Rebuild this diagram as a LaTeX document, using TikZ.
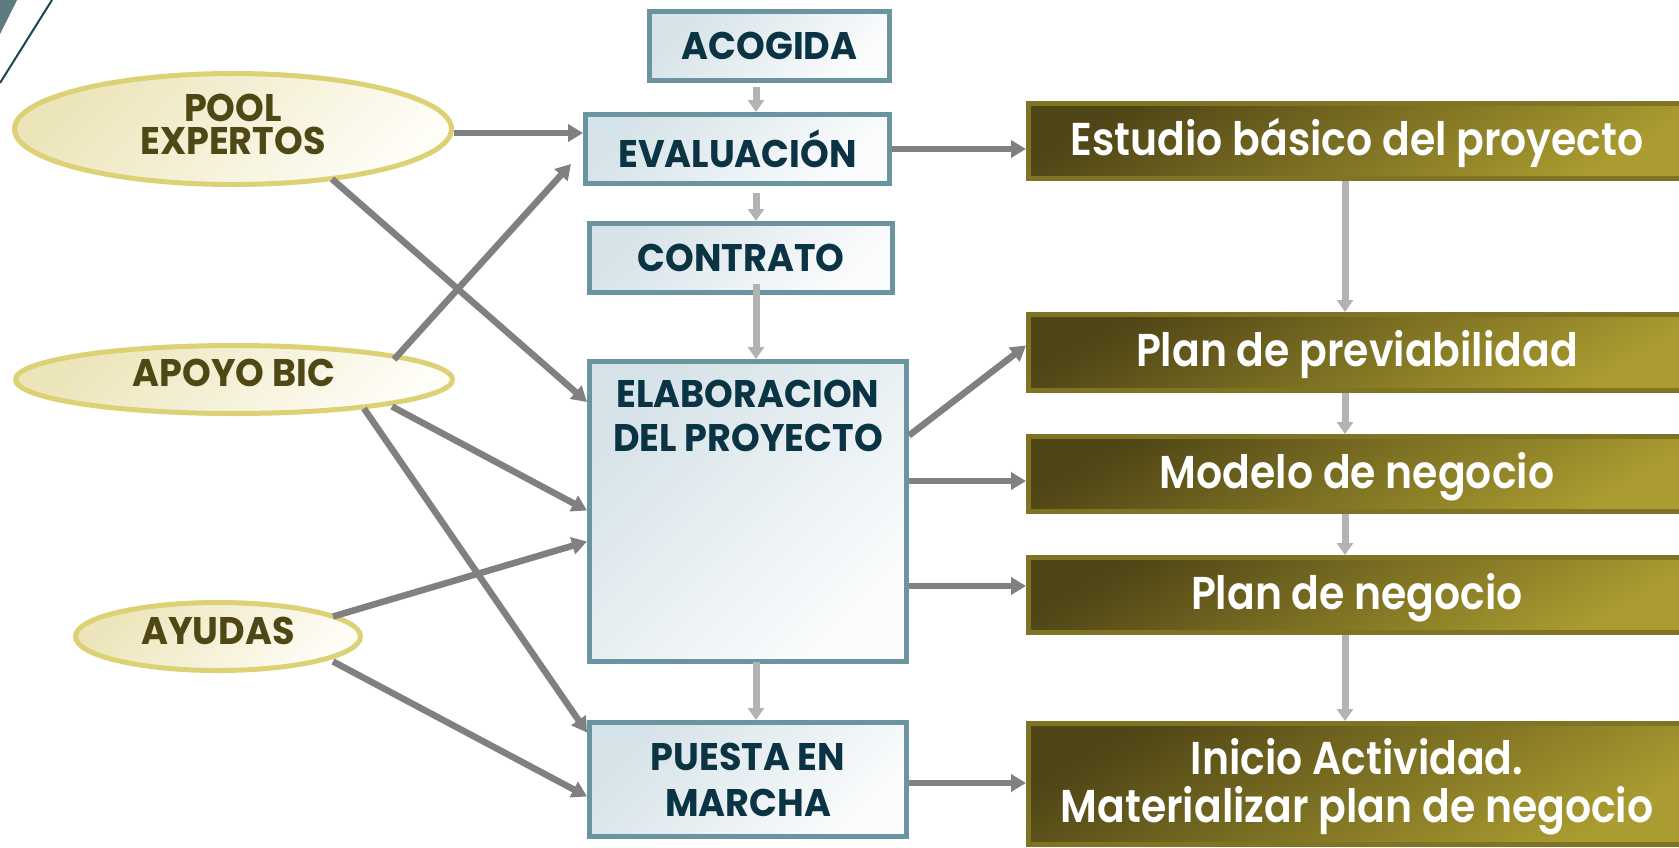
\documentclass[tikz,border=0pt]{standalone}
\usepackage{fontspec}
\setmainfont{Poppins}
\newfontfamily\capfont{Poppins}[FakeStretch=0.95]
\newfontfamily\olvfont{Poppins}[FakeStretch=0.89, BoldFont={Poppins SemiBold}]
\usetikzlibrary{shapes.geometric,arrows.meta,calc}
\definecolor{boxborder}{HTML}{6A94A0}
\definecolor{boxfillA}{HTML}{D6E3E8}
\definecolor{boxfillB}{HTML}{FBFCFD}
\definecolor{boxtext}{HTML}{0A3343}
\definecolor{ellborder}{HTML}{DCD174}
\definecolor{ellfillA}{HTML}{ECE5BA}
\definecolor{ellfillB}{HTML}{FEFDF6}
\definecolor{elltext}{HTML}{4F4714}
\definecolor{olvborder}{HTML}{7E7424}
\definecolor{olvA}{HTML}{4F4516}
\definecolor{olvB}{HTML}{AA9C30}
\definecolor{darkarrow}{HTML}{808080}
\definecolor{lightarrow}{HTML}{B3B3B3}
\definecolor{cornerfill}{HTML}{5E7B82}
\definecolor{cornerline}{HTML}{1C4652}
\begin{document}
\begin{tikzpicture}[x=1pt,y=-1pt,
  bluebox/.style={draw=boxborder, line width=5pt, top color=boxfillA, bottom color=boxfillB, shading angle=45,
    inner sep=0pt, text=boxtext, align=center, font=\capfont\bfseries\fontsize{38.5}{46}\selectfont},
  bluetext/.style={inner sep=0pt, text=boxtext, align=center, font=\capfont\bfseries\fontsize{38.5}{44}\selectfont},
  ell/.style={ellipse, draw=ellborder, line width=5pt, top color=ellfillA, bottom color=ellfillB, shading angle=45,
    inner sep=0pt, text=elltext, align=center, font=\capfont\bfseries\fontsize{38.5}{33}\selectfont},
  olv/.style={draw=olvborder, line width=5pt, top color=olvA, bottom color=olvB, shading angle=30,
    inner sep=0pt, text=white, align=center, minimum width=657pt, font=\olvfont\bfseries\fontsize{46}{48}\selectfont},
  darr/.style={draw=darkarrow, line width=6.5pt, -{Triangle[length=15pt,width=17pt]}},
  larr/.style={draw=lightarrow, line width=7pt, -{Triangle[length=12pt,width=16pt]}}
]
\useasboundingbox (0,0) rectangle (1679,847);
\clip (0,0) rectangle (1679,847);
\fill[white] (0,0) rectangle (1679,847);
% corner decoration
\fill[cornerfill] (0,0) -- (17,0) -- (0,34) -- cycle;
\draw[cornerline, line width=2pt] (52,0) -- (0,83);

% centre column
\node[bluebox, minimum width=240pt, minimum height=69pt] (acogida) at (769.5,46) {ACOGIDA};
\node[bluebox, minimum width=304pt, minimum height=69pt] (eval) at (737.5,149) {EVALUACIÓN};
\node[bluebox, minimum width=303pt, minimum height=69pt] (contrato) at (741,258) {CONTRATO};
\node[bluebox, minimum width=317pt, minimum height=300pt] (elab) at (748,511.5) {};
\node[bluetext] (elabt) at (748,416) {ELABORACION\\DEL PROYECTO};
\node[bluebox, minimum width=317pt, minimum height=114pt] (puesta) at (748,779.5) {PUESTA EN\\MARCHA};

% ellipses
\node[ell, minimum width=437pt, minimum height=111pt, text depth=10pt] (pool) at (233,129) {POOL\\EXPERTOS};
\node[ell, minimum width=437pt, minimum height=68pt, text depth=13pt] (apoyo) at (234,379.5) {APOYO BIC};
\node[ell, minimum width=285pt, minimum height=68pt, text depth=12pt] (ayudas) at (218,636.5) {AYUDAS};

% olive column
\node[olv, minimum height=75pt, text depth=8pt] (estudio) at (1357,141) {Estudio básico del proyecto};
\node[olv, minimum height=76pt, text depth=8pt] (planprev) at (1357,352.5) {Plan de previabilidad};
\node[olv, minimum height=75pt, text depth=8pt] (modelo) at (1357,474) {Modelo de negocio};
\node[olv, minimum height=75pt, text depth=8pt] (planneg) at (1357,595) {Plan de negocio};
\node[olv, minimum height=121pt, text depth=7pt] (inicio) at (1357,784) {Inicio Actividad.\\Materializar plan de negocio};

% light grey vertical arrows
\coordinate (a1) at ([xshift=-13.5pt,yshift=-4pt]acogida.south);
\draw[larr] (a1) -- (a1 |- eval.north);
\coordinate (a2) at ([xshift=18.5pt,yshift=-7pt]eval.south);
\draw[larr] (a2) -- (a2 |- contrato.north);
\coordinate (a3) at ([xshift=15pt,yshift=11pt]contrato.south);
\draw[larr] (a3) -- (a3 |- elab.north);
\coordinate (a4) at ([xshift=8pt,yshift=2pt]elab.south);
\draw[larr] (a4) -- (a4 |- puesta.north);
\coordinate (b1) at ([xshift=-12pt]estudio.south);
\draw[larr] (b1) -- (b1 |- planprev.north);
\coordinate (b2) at ([xshift=-12pt]planprev.south);
\draw[larr] (b2) -- (b2 |- modelo.north);
\coordinate (b3) at ([xshift=-12pt]modelo.south);
\draw[larr] (b3) -- (b3 |- planneg.north);
\coordinate (b4) at ([xshift=-12pt]planneg.south);
\draw[larr] (b4) -- (b4 |- inicio.north);

% dark grey arrows
\coordinate (p1) at ([yshift=-4pt]pool.east);
\draw[darr] (p1) -- (p1 -| eval.west);
\draw[darr] (eval.east) -- (eval.east -| estudio.west);
\draw[darr] ([xshift=99pt,yshift=-50pt]pool.center) -- ([yshift=109.5pt]elab.west);
\draw[darr] ([xshift=160pt,yshift=20pt]apoyo.center) -- ([xshift=-12pt,yshift=-15pt]eval.west);
\draw[darr] ([xshift=158pt,yshift=-27pt]apoyo.center) -- ([yshift=1pt]elab.west);
\draw[darr] ([xshift=130pt,yshift=-29pt]apoyo.center) -- ([yshift=47pt]puesta.west);
\draw[darr] ([xshift=115pt,yshift=20pt]ayudas.center) -- ([yshift=-30pt]elab.west);
\draw[darr] ([xshift=115pt,yshift=-25pt]ayudas.center) -- ([yshift=-17pt]puesta.west);
\draw[darr] ([yshift=76pt]elab.east) -- ([yshift=7pt]planprev.west);
\coordinate (e1) at ([yshift=30.5pt]elab.east);
\draw[darr] (e1) -- (e1 -| modelo.west);
\coordinate (e2) at ([yshift=-74.5pt]elab.east);
\draw[darr] (e2) -- (e2 -| planneg.west);
\coordinate (e3) at ([yshift=-3.5pt]puesta.east);
\draw[darr] (e3) -- (e3 -| inicio.west);
\end{tikzpicture}
\end{document}
